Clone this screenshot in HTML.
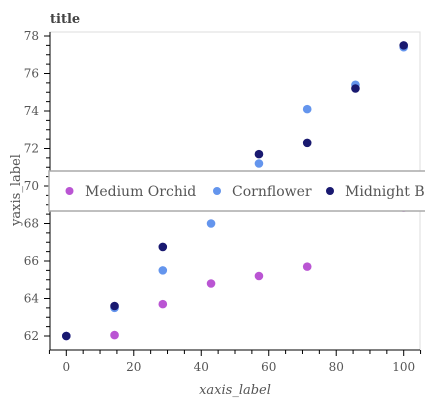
<!DOCTYPE html>
<html><head><meta charset="utf-8"><style>
body{margin:0;background:#fff;}
svg text{font-family:"DejaVu Serif","Liberation Serif",serif;}
</style></head><body>
<svg id="chart" width="425" height="400" xmlns="http://www.w3.org/2000/svg">
<text x="50" y="23" font-size="13" font-weight="bold" fill="#444">title</text>
<rect x="50" y="32" width="370" height="318" fill="none" stroke="#ddd" stroke-width="1"/>
<g id="axes"></g>
<g id="marks"></g>
<g>
<rect x="49" y="171" width="380" height="40" fill="#fff" stroke="#aaa" stroke-width="1.5"/>
<circle cx="69.5" cy="191" r="4" fill="#ba55d3"/>
<text x="85" y="196" font-size="14" fill="#555">Medium Orchid</text>
<circle cx="217" cy="191" r="4" fill="#6495ed"/>
<text x="232" y="196" font-size="14" fill="#555">Cornflower</text>
<circle cx="330" cy="191" r="4" fill="#191970"/>
<text x="345" y="196" font-size="14" fill="#555">Midnight Blue</text>
</g>
<text x="235" y="394" font-size="13" font-style="italic" fill="#555" text-anchor="middle">xaxis_label</text>
<text transform="translate(20,190) rotate(-90)" font-size="13" fill="#555" text-anchor="middle">yaxis_label</text>
</svg>
<script>
const xValues = [0, 14.3, 28.6, 42.9, 57.1, 71.4, 85.7, 100];
const orchidValues = [62, 62.05, 63.7, 64.8, 65.2, 65.7, 69.5, 68.85];
const cornflowerValues = [62, 63.5, 65.5, 68.0, 71.2, 74.1, 75.4, 77.4];
const midnightValues = [62, 63.6, 66.75, 69.8, 71.7, 72.3, 75.2, 77.5];
const xTicks = [0, 20, 40, 60, 80, 100];
const yTicks = [62, 64, 66, 68, 70, 72, 74, 76, 78];

const NS = "http://www.w3.org/2000/svg";
const xs = v => 66.3 + v * 3.374;
const ys = v => 336 - (v - 62) * 18.75;
function mk(tag, attrs, parent){const e=document.createElementNS(NS,tag);for(const k in attrs)e.setAttribute(k,attrs[k]);parent.appendChild(e);return e;}
const axes = document.getElementById('axes');
const marks = document.getElementById('marks');
const xl = mk('line',{x1:50,y1:350,x2:420,y2:350,stroke:'#000'},axes);


const yl = mk('line',{x1:50,y1:32,x2:50,y2:350,stroke:'#000'},axes);


for(let v=-5; v<=105; v+=5){
  const major = v%20===0;
  const t = mk('line',{x1:xs(v),y1:350,x2:xs(v),y2:major?356:354,stroke:'#000'},axes);
  
  
}
xTicks.forEach(v=>{
  const t = mk('text',{x:xs(v),y:371,'font-size':12,fill:'#555','text-anchor':'middle'},axes);
  t.textContent = v;
  
  
});
for(let v=62; v<=78.01; v+=0.5){
  const major = Math.abs(v%2)<0.01;
  const t = mk('line',{x1:major?44:46,y1:ys(v),x2:50,y2:ys(v),stroke:'#000'},axes);
  
  
}
yTicks.forEach(v=>{
  const t = mk('text',{x:39,y:ys(v)+4,'font-size':12,fill:'#555','text-anchor':'end'},axes);
  t.textContent = v;
  
  
});
function series(vals, color, name){
  vals.forEach((v,i)=>{
    const c = mk('circle',{cx:xs(xValues[i]),cy:ys(v),r:4.3,fill:color},marks);
    
    
  });
}
series(orchidValues,'#ba55d3','medium-orchid');
series(cornflowerValues,'#6495ed','cornflower');
series(midnightValues,'#191970','midnight-blue');
</script>
</body></html>
